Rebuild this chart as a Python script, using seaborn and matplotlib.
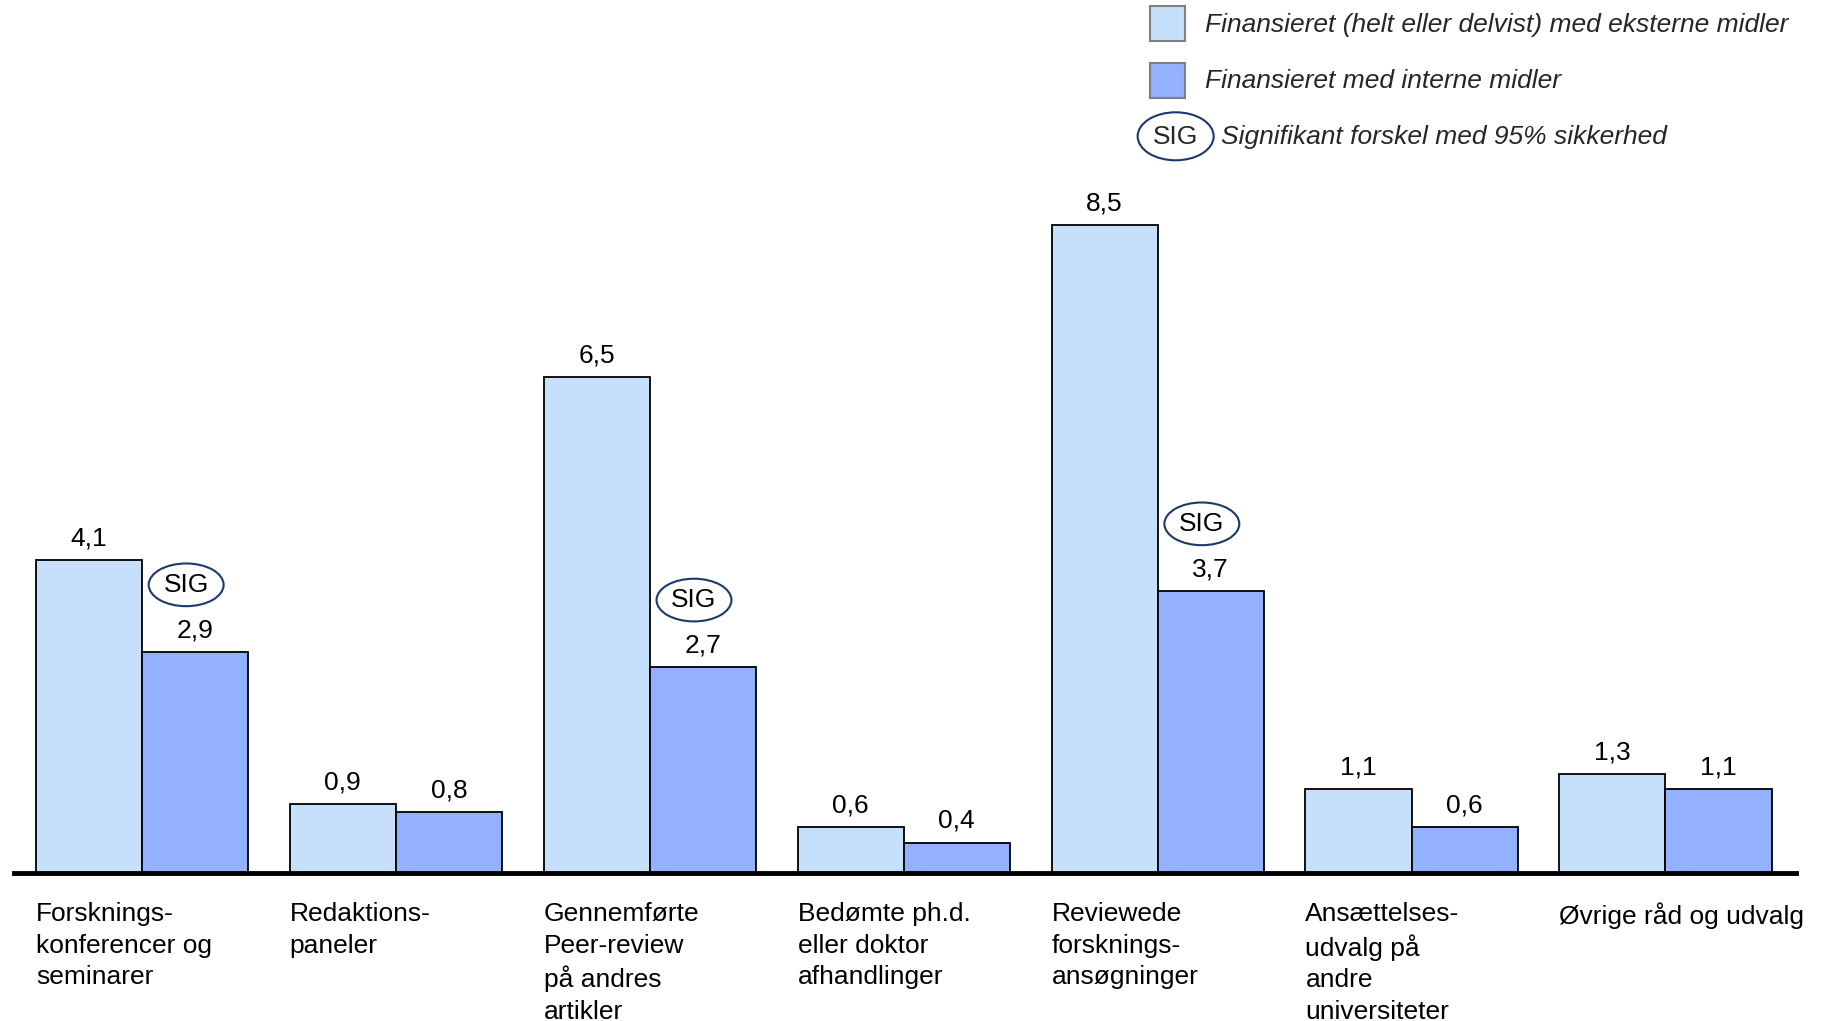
import matplotlib
matplotlib.use("Agg")
import matplotlib.pyplot as plt
import seaborn as sns
import pandas as pd
from matplotlib.patches import Ellipse, Rectangle
from matplotlib.transforms import blended_transform_factory

categories = [
    "Forsknings-\nkonferencer og\nseminarer",
    "Redaktions-\npaneler",
    "Gennemførte\nPeer-review\npå andres\nartikler",
    "Bedømte ph.d.\neller doktor\nafhandlinger",
    "Reviewede\nforsknings-\nansøgninger",
    "Ansættelses-\nudvalg på\nandre\nuniversiteter",
    "Øvrige råd og udvalg",
]
series_names = ["Finansieret (helt eller delvist) med eksterne midler",
                "Finansieret med interne midler"]
external = [4.1, 0.9, 6.5, 0.6, 8.5, 1.1, 1.3]
internal = [2.9, 0.8, 2.7, 0.4, 3.7, 0.6, 1.1]
significant = [True, False, True, False, True, False, False]
sig_label = "Signifikant forskel med 95% sikkerhed"

light = "#C6E0FB"
dark = "#93B1FF"
navy = "#1B3A6B"
FS = 19

sns.set_theme(style="white")
plt.rcParams["font.family"] = ["Liberation Sans", "DejaVu Sans"]

W, H = 1825, 1021
fig = plt.figure(figsize=(W / 100, H / 100), dpi=100)
ax = fig.add_axes([14 / W, 148 / H, 1782 / W, 838.6 / H])

keys = [f"c{i}" for i in range(len(categories))]
df = pd.DataFrame({
    "cat": keys * 2,
    "series": [series_names[0]] * len(keys) + [series_names[1]] * len(keys),
    "value": external + internal,
})
sns.barplot(data=df, x="cat", y="value", hue="series", order=keys,
            hue_order=series_names, palette=[light, dark], width=0.836,
            edgecolor="black", linewidth=1.3, saturation=1, legend=False, ax=ax)

ax.set_xlim(-0.504, 6.514)
ax.set_ylim(0, 11)
for s in ["top", "left", "right"]:
    ax.spines[s].set_visible(False)
ax.spines["bottom"].set_linewidth(3.5)
ax.spines["bottom"].set_color("black")
ax.set_xticks([])
ax.set_yticks([])
ax.set_xlabel("")
ax.set_ylabel("")

for cont in ax.containers:
    vals = [b.get_height() for b in cont]
    ax.bar_label(cont, labels=[f"{v:.1f}".replace(".", ",") for v in vals],
                 padding=7, fontsize=FS, color="black")

# category labels, left aligned with the left bar edge
bt = blended_transform_factory(ax.transData, ax.transAxes)
for i, lab in enumerate(categories):
    ax.text(i - 0.418, -0.035, lab, transform=bt, ha="left", va="top",
            fontsize=FS, linespacing=1.38, color="black")

# SIG ellipses
int_bars = ax.containers[1]
for i, sig in enumerate(significant):
    if sig:
        b = int_bars[i]
        cx = b.get_x() + b.get_width() / 2 - 0.035
        cy = b.get_height() + 0.88
        ax.add_patch(Ellipse((cx, cy), 0.295, 0.56, facecolor="white",
                             edgecolor=navy, linewidth=1.5, clip_on=False))
        ax.text(cx, cy, "SIG", ha="center", va="center", fontsize=FS, color="black")

# legend
for j, (col, yb) in enumerate([(light, 0.9598), (dark, 0.904)]):
    fig.add_artist(Rectangle((1150 / W, yb), 35 / W, 35 / H, transform=fig.transFigure,
                             facecolor=col, edgecolor="#808080", linewidth=1.5))
fig.text(1205 / W, 0.976, series_names[0], ha="left", va="center",
         fontsize=FS, style="italic")
fig.text(1205 / W, 0.9205, series_names[1], ha="left", va="center",
         fontsize=FS, style="italic")
fig.add_artist(Ellipse((0.6442, 0.8665), 76 / W, 48 / H, transform=fig.transFigure,
                       facecolor="white", edgecolor=navy, linewidth=1.5))
fig.text(0.6442, 0.8655, "SIG", ha="center", va="center", fontsize=FS)
fig.text(1221 / W, 0.8655, sig_label, ha="left", va="center",
         fontsize=FS, style="italic")

fig.savefig("out.png", dpi=100, facecolor="white")
